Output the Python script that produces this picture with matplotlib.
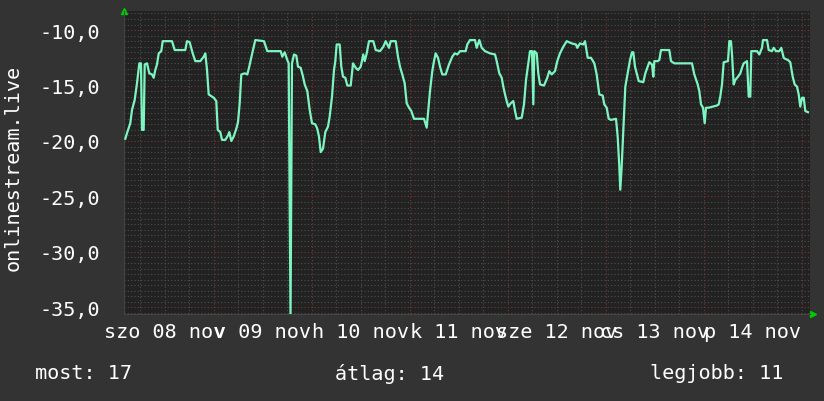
import numpy as np
import matplotlib
matplotlib.use("Agg")
import matplotlib.pyplot as plt

# hours since sat 08 nov 00:00
hours = [2.28, 2.69, 3.50, 3.92, 4.58, 5.14, 5.71, 6.12, 6.37, 6.78, 7.03, 7.59, 8.16, 8.82, 9.23,
         9.62, 10.04, 10.46, 11.09, 11.44, 13.71, 14.38, 16.97, 17.39, 18.05, 18.78, 19.42, 20.64,
         21.48, 21.87, 22.29, 22.70, 23.93, 24.56, 24.91, 25.54, 25.96, 26.77, 27.43, 27.75, 28.24,
         28.82, 29.46, 29.88, 30.29, 30.69, 31.52, 32.16, 32.57, 32.99, 33.55, 34.11, 36.24, 37.05,
         40.33, 40.73, 41.31, 41.95, 42.29, 42.74, 43.10, 43.59, 44.16, 44.57, 45.23, 45.80, 46.21,
         46.85, 47.44, 48.00, 48.81, 49.30, 49.71, 50.13, 50.69, 51.26, 51.92, 52.33, 52.90, 53.39,
         53.71, 54.05, 54.78, 55.18, 55.59, 56.16, 56.65, 57.48, 58.04, 58.70, 59.27, 59.93, 60.56,
         60.91, 61.40, 61.96, 63.01, 63.60, 64.65, 65.46, 66.05, 66.86, 67.27, 68.50, 69.06, 69.55,
         70.11, 70.70, 71.19, 71.76, 72.32, 72.98, 75.43, 76.09, 76.41, 76.90, 77.46, 77.88, 78.29,
         78.86, 79.35, 79.91, 80.74, 81.55, 82.36, 82.95, 83.58, 84.25, 85.64, 86.03, 86.69, 87.92,
         88.33, 88.97, 89.56, 90.37, 91.59, 92.82, 93.23, 93.87, 94.46, 94.85, 95.27, 95.68, 96.08,
         96.66, 97.30, 97.72, 98.13, 99.36, 99.92, 100.41, 100.97, 101.39, 101.88, 102.20, 102.44,
         103.03, 103.42, 103.84, 104.82, 105.62, 106.11, 106.70, 107.51, 108.07, 108.73, 109.54,
         110.38, 111.60, 112.65, 112.97, 113.63, 114.44, 114.86, 115.52, 116.33, 117.14, 117.72,
         118.36, 119.19, 119.58, 120.17, 120.66, 121.22, 122.45, 122.86, 123.26, 123.50, 123.84,
         124.24, 124.73, 125.31, 125.88, 126.37, 126.69, 127.10, 127.59, 128.01, 129.14, 129.63,
         130.21, 130.60, 131.27, 131.59, 131.83, 132.66, 133.06, 133.47, 135.50, 135.92, 136.73,
         141.06, 141.63, 142.46, 142.85, 143.27, 143.76, 144.17, 144.49, 145.15, 147.18, 147.60,
         147.99, 148.41, 148.82, 149.88, 150.20, 150.61, 150.86, 151.27, 151.67, 152.33, 152.89,
         153.31, 153.72, 154.53, 154.95, 155.34, 155.58, 156.98, 157.54, 158.20, 158.45, 159.43,
         159.84, 160.65, 161.07, 161.63, 162.44, 162.93, 163.52, 163.91, 164.57, 165.13, 165.72,
         166.21, 166.78, 167.19, 167.58, 168.00, 168.42, 168.81, 169.46]
values = [-19.8, -19.3, -18.4, -17.2, -16.3, -14.8, -13.0, -13.0, -19.0, -19.0, -13.1, -13.0, -13.9,
          -14.0, -14.3, -13.6, -13.1, -12.1, -11.9, -11.0, -11.0, -11.8, -11.8, -11.0, -11.1, -12.1,
          -12.8, -12.8, -12.4, -12.1, -13.6, -15.8, -16.1, -16.4, -19.0, -19.2, -19.9, -19.9, -19.5,
          -19.2, -20.0, -19.6, -18.9, -18.3, -16.6, -14.0, -13.9, -14.0, -13.4, -12.7, -11.8, -10.9,
          -11.0, -11.9, -11.9, -12.4, -12.0, -12.7, -13.0, -36.0, -13.0, -12.2, -12.3, -13.3, -13.4,
          -14.2, -14.9, -15.5, -17.2, -18.4, -18.5, -18.9, -19.6, -21.0, -20.7, -19.2, -18.7, -17.8,
          -16.0, -13.6, -12.8, -11.3, -11.3, -13.3, -14.2, -14.3, -15.0, -15.0, -13.0, -13.4, -13.6,
          -13.3, -12.2, -12.8, -12.1, -11.0, -11.0, -11.8, -11.9, -11.5, -11.0, -11.6, -11.0, -11.0,
          -12.4, -13.3, -14.0, -14.8, -16.6, -17.0, -17.3, -18.0, -18.0, -18.8, -17.5, -15.5, -13.7,
          -12.8, -12.1, -12.5, -13.3, -14.0, -14.0, -13.1, -12.4, -12.1, -12.2, -11.9, -11.9, -11.3,
          -10.9, -10.9, -11.6, -10.9, -11.6, -11.9, -12.1, -12.2, -12.8, -13.9, -14.3, -15.1, -15.8,
          -16.4, -16.9, -16.6, -16.4, -17.3, -18.0, -17.9, -16.7, -14.5, -13.0, -11.9, -11.9, -16.7,
          -11.9, -12.1, -13.9, -14.9, -15.0, -14.3, -13.7, -14.0, -13.7, -12.8, -12.1, -11.5, -11.0,
          -11.2, -11.3, -11.6, -11.2, -11.3, -11.0, -12.5, -12.5, -13.0, -14.0, -15.8, -15.9, -16.7,
          -17.0, -18.0, -18.1, -18.0, -19.6, -22.3, -24.4, -22.3, -19.0, -15.1, -13.9, -12.7, -12.0,
          -12.0, -13.3, -14.0, -14.6, -14.7, -13.9, -13.3, -12.9, -13.1, -14.2, -12.8, -12.8, -12.7,
          -11.8, -11.8, -12.8, -13.0, -13.0, -14.0, -14.9, -15.5, -16.7, -17.0, -18.4, -17.0, -17.0,
          -16.8, -16.7, -16.0, -14.9, -12.9, -12.8, -11.0, -11.0, -12.2, -14.9, -14.5, -14.2, -13.9,
          -13.4, -13.0, -12.8, -16.0, -16.0, -11.9, -11.9, -12.2, -11.6, -10.9, -10.9, -11.8, -11.9,
          -11.6, -11.9, -11.9, -11.6, -12.5, -12.6, -12.7, -12.9, -14.2, -14.9, -15.1, -15.8, -16.9,
          -16.1, -16.1, -17.3, -17.4]

label_hours = [12, 36, 60, 84, 108, 132, 156]
day_labels = ['szo 08 nov', 'v 09 nov', 'h 10 nov', 'k 11 nov', 'sze 12 nov', 'cs 13 nov', 'p 14 nov']
y_ticks = [-10, -15, -20, -25, -30, -35]
y_labels = ['-10,0', '-15,0', '-20,0', '-25,0', '-30,0', '-35,0']

bg = '#333333'
plot_bg = '#222222'
fg = '#ffffff'
mono = 'DejaVu Sans Mono'

fig = plt.figure(figsize=(8.24, 4.02), dpi=100, facecolor=bg)
ax = fig.add_axes([124 / 824, 1 - 315 / 402, 686 / 824, 303 / 402])
ax.set_facecolor(plot_bg)
ax.set_xlim(1.96, 169.96)
ax.set_ylim(-35.6, -8.28)

# grid, rrdtool style
for h in np.arange(6, 170, 6):
    major = h % 24 == 0
    ax.axvline(h, color='#7a3535' if major else '#4e4e4e', lw=0.8,
               ls=(0, (1, 2)), zorder=1)
for v in np.arange(-35.5, -8.4, 0.5):
    major = v % 5 == 0
    ax.axhline(v, color='#7a3535' if major else '#4e4e4e', lw=0.8,
               ls=(0, (1, 2)), zorder=1)

ax.plot(hours, values, color='#7df5c0', lw=1.6, zorder=3)

for s in ['top', 'right']:
    ax.spines[s].set_visible(False)
for s in ['left', 'bottom']:
    ax.spines[s].set_color('#444444')

ax.set_yticks(y_ticks)
ax.set_yticklabels(y_labels)
ax.set_xticks(label_hours)
ax.set_xticklabels(day_labels)
ax.tick_params(axis='y', length=0, pad=17, labelsize=14.5, labelcolor=fg)
ax.tick_params(axis='x', length=0, pad=6, labelsize=14.5, labelcolor=fg)
for lab in ax.get_xticklabels() + ax.get_yticklabels():
    lab.set_family(mono)

# green arrows at axis ends
ax.plot([0], [1.0], marker='^', color='#00cc00', ms=5, transform=ax.transAxes, clip_on=False)
ax.plot([1.004], [0], marker='>', color='#00cc00', ms=5, transform=ax.transAxes, clip_on=False)

fig.text(13 / 824, 1 - 168 / 402, 'onlinestream.live', rotation=90, ha='center', va='center',
         color=fg, fontsize=14.5, family=mono)
fig.text(35 / 824, 1 - 374 / 402, 'most: 17', ha='left', va='center', color=fg, fontsize=14.5, family=mono)
fig.text(335 / 824, 1 - 374 / 402, 'átlag: 14', ha='left', va='center', color=fg, fontsize=14.5, family=mono)
fig.text(650 / 824, 1 - 374 / 402, 'legjobb: 11', ha='left', va='center', color=fg, fontsize=14.5, family=mono)

fig.savefig('out.png', dpi=100, facecolor=bg)
